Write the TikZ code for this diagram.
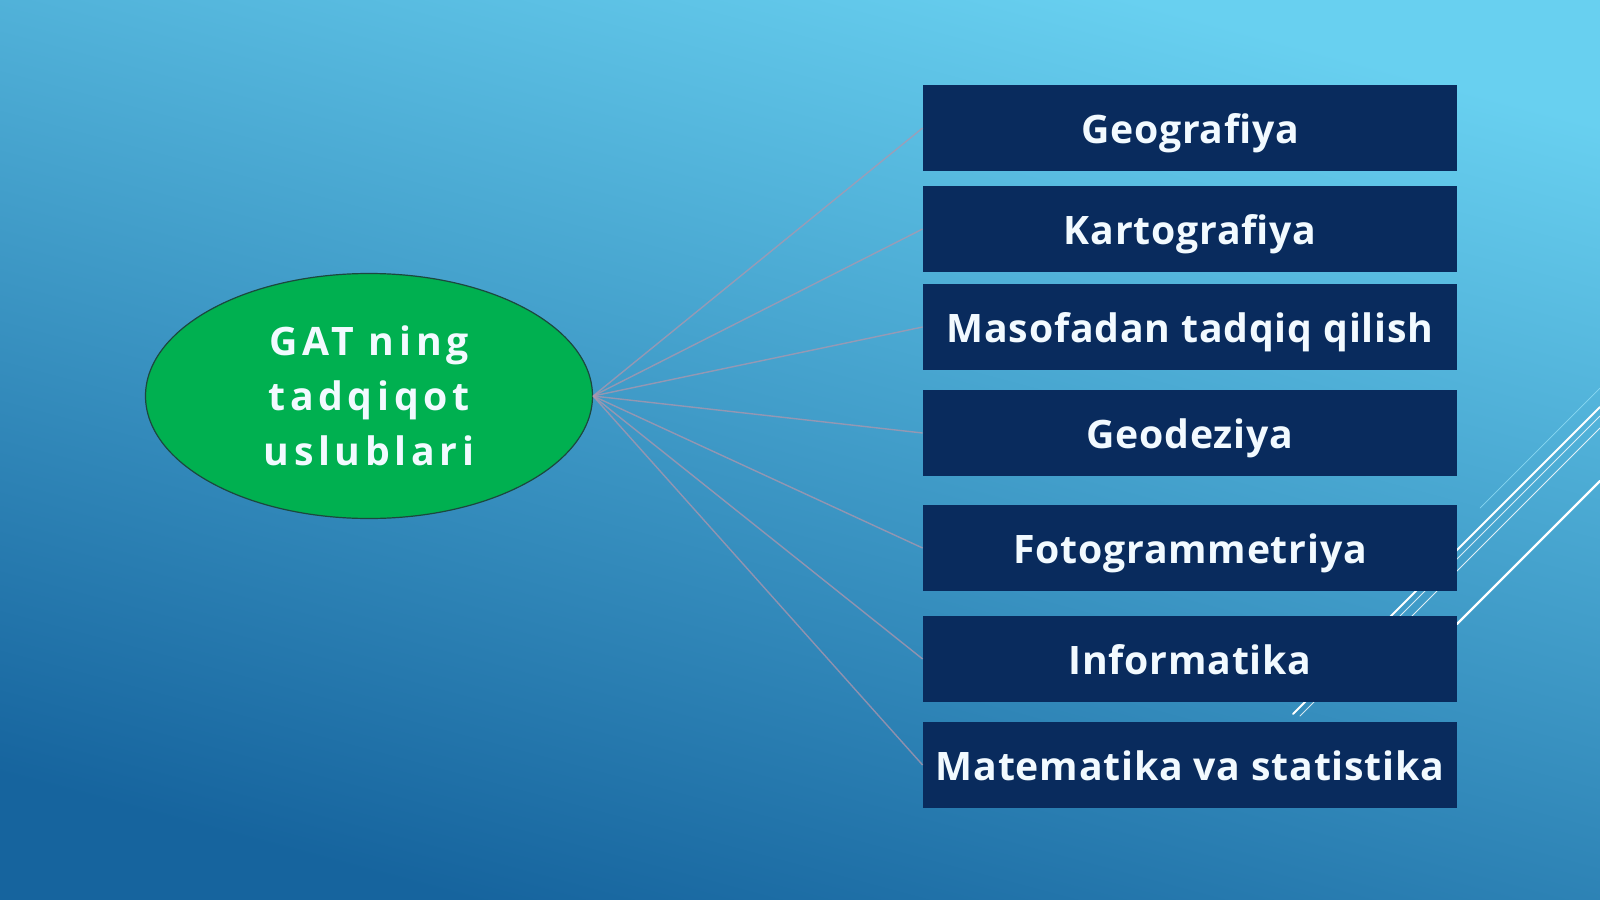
\documentclass[tikz,border=0pt]{standalone}
\usepackage{fontspec}
\setmainfont{Open Sans}
\usepackage{tikz}
\usetikzlibrary{positioning}
\usetikzlibrary{shapes.geometric}
\definecolor{bgtop}{RGB}{104,208,240}
\definecolor{bgbot}{RGB}{22,100,158}
\definecolor{navy}{RGB}{9,43,93}
\definecolor{hubgreen}{RGB}{0,176,80}
\definecolor{rimgreen}{RGB}{28,72,62}
\definecolor{spokepink}{RGB}{176,150,172}
\definecolor{textwhite}{RGB}{242,250,255}
\definecolor{decocyan}{RGB}{150,225,248}
\newfontfamily\boxfont[LetterSpace=2]{Open Sans}
\newfontfamily\hubfont[LetterSpace=12]{Open Sans}

\begin{document}
\begin{tikzpicture}[x=0.5pt,y=-0.5pt,
    method/.style={rectangle,fill=navy,minimum width=267pt,minimum height=43pt,inner sep=0pt,text height=17pt,text depth=1.8pt,text=textwhite,font=\boxfont\bfseries\fontsize{19.6}{24}\selectfont},
    hub/.style={ellipse,draw=rimgreen,line width=0.6pt,fill=hubgreen,minimum width=223.5pt,minimum height=122.5pt,inner sep=0pt,align=center,text=textwhite,font=\hubfont\bfseries\fontsize{19.6}{27.5}\selectfont},
    spoke/.style={draw=spokepink,line width=0.7pt,opacity=0.75},
    deco/.style={draw=white,line cap=round}]
    % background
    \shade [top color=bgtop,bottom color=bgbot,shading angle=-15] (0,0) rectangle (1600,899);
    \useasboundingbox (0,0) rectangle (1600,899);
    % light strokes behind the boxes
    \draw [deco,draw=decocyan,line width=0.35pt,opacity=0.8] (1480,508) -- (1600,388);
    \draw [deco,line width=1pt] (1293,714) -- (1600,407);
    \draw [deco,line width=0.4pt,opacity=0.8] (1300,716) -- (1600,416);
    \draw [deco,line width=0.5pt,opacity=0.85] (1390,638) -- (1600,428);
    \draw [deco,line width=1.2pt] (1457,624) -- (1600,481);
    % methods
    \node (geo) at (1190,128) [method] {Geografiya};
    \node (kart) at (1190,229) [method] {Kartografiya};
    \node (mas) at (1190,327) [method] {Masofadan tadqiq qilish};
    \node (gdz) at (1190,433) [method] {Geodeziya};
    \node (foto) at (1190,548) [method] {Fotogrammetriya};
    \node (inf) at (1190,659) [method] {Informatika};
    \node (mat) at (1190,765) [method] {Matematika va statistika};
    \node (gat) at (369,396) [hub] {GAT ning\\tadqiqot\\uslublari};
    \draw [spoke] (gat.east) to (geo.west);
    \draw [spoke] (gat.east) to (kart.west);
    \draw [spoke] (gat.east) to (mas.west);
    \draw [spoke] (gat.east) to (gdz.west);
    \draw [spoke] (gat.east) to (foto.west);
    \draw [spoke] (gat.east) to (inf.west);
    \draw [spoke] (gat.east) to (mat.west);
\end{tikzpicture}
\end{document}
